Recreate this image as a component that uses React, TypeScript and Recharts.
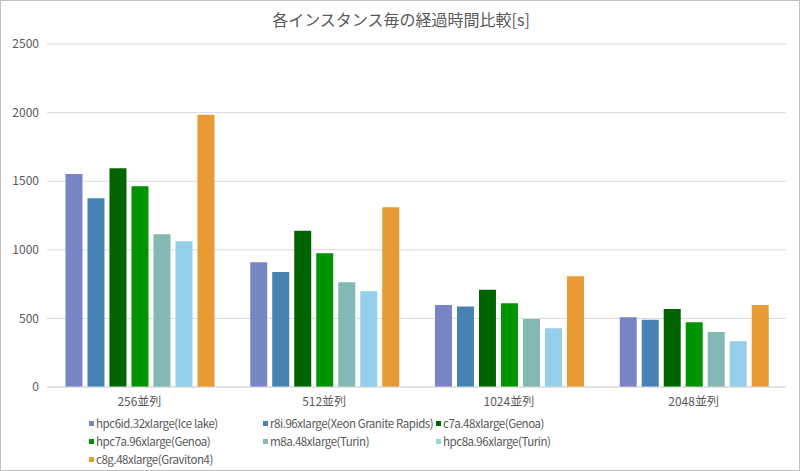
import { BarChart, Bar, XAxis, YAxis, CartesianGrid } from "recharts";

const categories = ["256並列", "512並列", "1024並列", "2048並列"];
const seriesNames = [
  "hpc6id.32xlarge(Ice lake)",
  "r8i.96xlarge(Xeon Granite Rapids)",
  "c7a.48xlarge(Genoa)",
  "hpc7a.96xlarge(Genoa)",
  "m8a.48xlarge(Turin)",
  "hpc8a.96xlarge(Turin)",
  "c8g.48xlarge(Graviton4)",
];
const colors = ["#7884C4", "#4682B4", "#006400", "#009400", "#84B8B4", "#96CFEA", "#E89A35"];

const hpc6id = [1552, 909, 598, 509];
const r8i = [1376, 838, 586, 491];
const c7a = [1595, 1139, 708, 569];
const hpc7a = [1464, 974, 611, 472];
const m8a = [1114, 763, 496, 401];
const hpc8a = [1063, 697, 428, 334];
const c8g = [1984, 1310, 808, 598];
const yTicks = [0, 500, 1000, 1500, 2000, 2500];

const seriesValues = [hpc6id, r8i, c7a, hpc7a, m8a, hpc8a, c8g];
const data = categories.map((name, i) => {
  const row: Record<string, string | number> = { name };
  seriesNames.forEach((s, j) => {
    row[s] = seriesValues[j][i];
  });
  return row;
});

const FONT = '"Noto Sans CJK JP", "Noto Sans", sans-serif';
const TEXT = "#595959";
const legendCols = [88, 262, 435];

export default function App() {
  return (
    <div
      style={{
        position: "absolute",
        left: 0,
        top: 0,
        width: 800,
        height: 471,
        boxSizing: "border-box",
        border: "1px solid #bfbfbf",
        background: "#fff",
        fontFamily: FONT,
        overflow: "hidden",
      }}
    >
      <div
        style={{
          position: "absolute",
          top: 6,
          left: 0,
          width: 800,
          textAlign: "center",
          fontSize: 16,
          color: TEXT,
        }}
      >
        各インスタンス毎の経過時間比較[s]
      </div>
      <div style={{ position: "absolute", left: -1, top: -1 }}>
        <BarChart
          width={800}
          height={471}
          data={data}
          margin={{ top: 44, right: 14, left: 0, bottom: 54 }}
          barCategoryGap="10%"
          barGap={5}
        >
          <CartesianGrid vertical={false} stroke="#d9d9d9" />
          <XAxis
            dataKey="name"
            height={30}
            tickLine={false}
            axisLine={{ stroke: "#d9d9d9" }}
            tick={{ fontSize: 12, fill: TEXT, fontFamily: FONT, dy: 2 }}
          />
          <YAxis
            width={47}
            domain={[0, 2500]}
            ticks={yTicks}
            tickLine={false}
            axisLine={false}
            tick={{ fontSize: 12, fill: TEXT, fontFamily: FONT }}
          />
          {seriesNames.map((s, j) => (
            <Bar key={s} dataKey={s} fill={colors[j]} isAnimationActive={false} />
          ))}
        </BarChart>
      </div>
      {seriesNames.map((s, j) => (
        <div
          key={s}
          style={{
            position: "absolute",
            left: legendCols[j % 3],
            top: 414 + Math.floor(j / 3) * 18,
            fontSize: 11.5,
            letterSpacing: -0.45,
            color: TEXT,
            whiteSpace: "nowrap",
            display: "flex",
            alignItems: "center",
          }}
        >
          <span
            style={{
              display: "inline-block",
              width: 5,
              height: 5,
              background: colors[j],
              marginRight: 2,
            }}
          />
          {s}
        </div>
      ))}
    </div>
  );
}
